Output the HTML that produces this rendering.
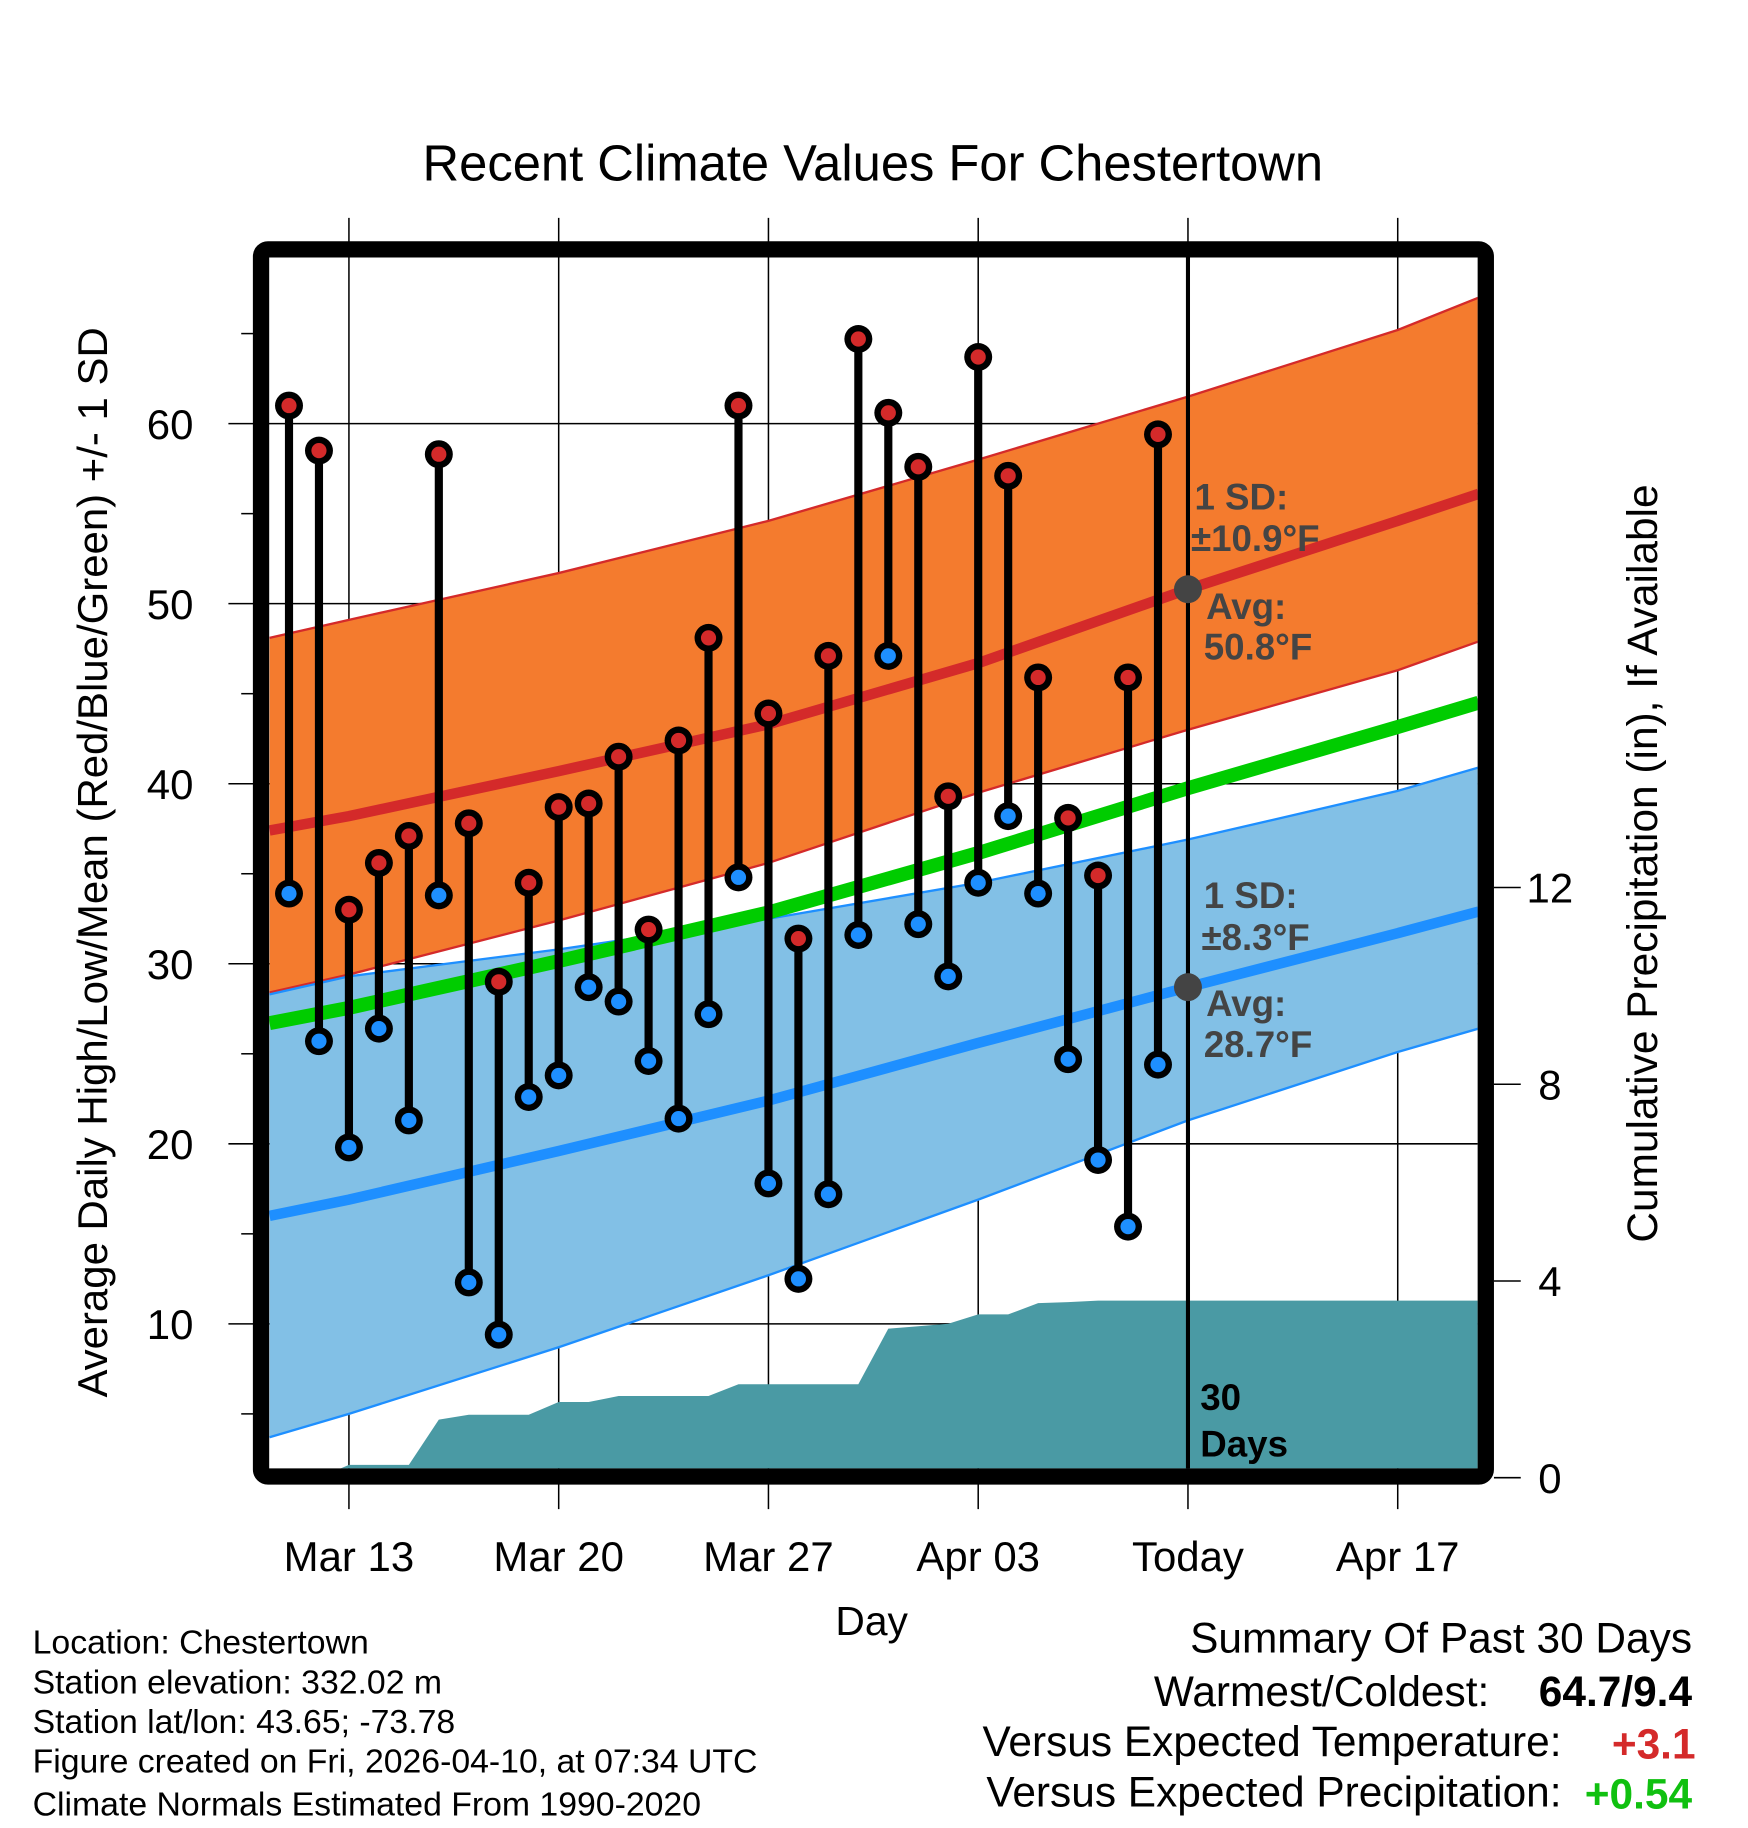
<!DOCTYPE html>
<html><head><meta charset="utf-8"><style>
html,body{margin:0;padding:0;background:#fff;}
svg{display:block;font-family:"Liberation Sans",Arial,sans-serif;}
</style></head><body>
<svg id="chart" width="1748" height="1828" viewBox="0 0 1500 1568.6" preserveAspectRatio="none" xmlns="http://www.w3.org/2000/svg">
<defs><clipPath id="plotclip"><rect x="231" y="221" width="1037" height="1039"/></clipPath></defs>
<rect x="0" y="0" width="1500" height="1568.6" fill="#fff"/>
<text x="749" y="155" font-size="43.5" text-anchor="middle">Recent Climate Values For Chestertown</text>
<g id="grid"></g>
<g id="plot" clip-path="url(#plotclip)"></g>
<g id="overlay"></g>
<rect x="224" y="214" width="1051" height="1053" rx="6" fill="none" stroke="#000" stroke-width="14"/>
<g id="axes"></g>
<text x="748" y="1403" font-size="35" text-anchor="middle">Day</text>
<text transform="translate(92,740) rotate(-90)" font-size="36" text-anchor="middle">Average Daily High/Low/Mean (Red/Blue/Green) +/- 1 SD</text>
<text transform="translate(1422,741) rotate(-90)" font-size="36.4" text-anchor="middle">Cumulative Precipitation (in), If Available</text>
<g font-size="29">
<text x="28" y="1419">Location: Chestertown</text>
<text x="28" y="1453">Station elevation: 332.02 m</text>
<text x="28" y="1487">Station lat/lon: 43.65; -73.78</text>
<text x="28" y="1521">Figure created on Fri, 2026-04-10, at 07:34 UTC</text>
<text x="28" y="1558">Climate Normals Estimated From 1990-2020</text>
</g>
<g font-size="36.4">
<text x="1452" y="1418" text-anchor="end">Summary Of Past 30 Days</text>
<text x="1278" y="1464" text-anchor="end">Warmest/Coldest:</text>
<text x="1452" y="1464" text-anchor="end" font-weight="bold">64.7/9.4</text>
<text x="1340" y="1507" text-anchor="end">Versus Expected Temperature:</text>
<text x="1455" y="1509" text-anchor="end" font-weight="bold" fill="#d42a2a">+3.1</text>
<text x="1340" y="1550" text-anchor="end">Versus Expected Precipitation:</text>
<text x="1452" y="1552" text-anchor="end" font-weight="bold" fill="#10c010">+0.54</text>
</g>
</svg>
<script>
// ---- data ----
const days = ["Mar 11","Mar 12","Mar 13","Mar 14","Mar 15","Mar 16","Mar 17","Mar 18","Mar 19","Mar 20","Mar 21","Mar 22","Mar 23","Mar 24","Mar 25","Mar 26","Mar 27","Mar 28","Mar 29","Mar 30","Mar 31","Apr 1","Apr 2","Apr 3","Apr 4","Apr 5","Apr 6","Apr 7","Apr 8","Apr 9"];
const highs = [61.0,58.5,33.0,35.6,37.1,58.3,37.8,29.0,34.5,38.7,38.9,41.5,31.9,42.4,48.1,61.0,43.9,31.4,47.1,64.7,60.6,57.6,39.3,63.7,57.1,45.9,38.1,34.9,45.9,59.4];
const lows = [33.9,25.7,19.8,26.4,21.3,33.8,12.3,9.4,22.6,23.8,28.7,27.9,24.6,21.4,27.2,34.8,17.8,12.5,17.2,31.6,47.1,32.2,29.3,34.5,38.2,33.9,24.7,19.1,15.4,24.4];
const precip = [0,0,0.26,0.26,0.26,1.18,1.28,1.28,1.28,1.54,1.54,1.66,1.66,1.66,1.66,1.9,1.9,1.9,1.9,1.9,3.03,3.08,3.13,3.32,3.32,3.55,3.57,3.6,3.6,3.6];
// normals at knot days (offset from Mar 11)
const normDays = [-0.65,2,9,16,23,30,37,39.7];
const normHighMean = [37.4,38.2,40.7,43.3,46.7,50.8,54.6,56.1];
const normHighUpper = [48.1,49.1,51.7,54.6,58.0,61.5,65.2,67.0];
const normHighLower = [28.4,29.4,32.4,35.6,39.5,43.0,46.3,47.9];
const normLowMean = [16.0,16.9,19.6,22.4,25.6,28.7,31.7,32.9];
const normLowUpper = [28.3,29.3,30.8,32.5,34.5,36.9,39.6,40.9];
const normLowLower = [3.7,5.0,8.7,12.7,16.9,21.3,25.1,26.4];
const xTickLabels = ["Mar 13","Mar 20","Mar 27","Apr 03","Today","Apr 17"];
const xTickDays = [2,9,16,23,30,37];
const yTicks = [10,20,30,40,50,60];
const yMinorTicks = [5,15,25,35,45,55,65];
const y2Ticks = [0,4,8,12];
const todayDay = 30;
const todayHighAvg = 50.8, todayLowAvg = 28.7;

// ---- scales ----
const X = d => 248 + d*25.714;
const Y = v => 1136 - (v-10)*15.45;
const Y2 = p => 1268 - p*42.2;
const NS = "http://www.w3.org/2000/svg";
function mk(parent, tag, attrs){const e=document.createElementNS(NS,tag);for(const k in attrs)e.setAttribute(k,attrs[k]);parent.appendChild(e);return e;}
const grid=document.getElementById('grid'), plot=document.getElementById('plot'), overlay=document.getElementById('overlay'), axes=document.getElementById('axes');

xTickDays.forEach((d,i)=>{
  const l=mk(grid,'line',{x1:X(d),x2:X(d),y1:187,y2:1295,stroke:'#000','stroke-width':1.3});
  
  
  const t=mk(axes,'text',{x:X(d),y:1348,'font-size':36,'text-anchor':'middle'});
  t.textContent=xTickLabels[i];
  
  
});
yTicks.forEach(v=>{
  const l=mk(grid,'line',{x1:196,x2:1268,y1:Y(v),y2:Y(v),stroke:'#000','stroke-width':1.3});
  
  
  const t=mk(axes,'text',{x:166,y:Y(v)+13,'font-size':36,'text-anchor':'end'});
  t.textContent=v;
  
  
});
yMinorTicks.forEach(v=>{
  const l=mk(axes,'line',{x1:207,x2:218,y1:Y(v),y2:Y(v),stroke:'#000','stroke-width':1.3});
  
  
});
y2Ticks.forEach(p=>{
  const l=mk(axes,'line',{x1:1282,x2:1305,y1:Y2(p),y2:Y2(p),stroke:'#000','stroke-width':1.3});
  
  
  const t=mk(axes,'text',{x:1330,y:Y2(p)+13,'font-size':36,'text-anchor':'middle'});
  t.textContent=p;
  
  
});

function pts(arr){return normDays.map((d,i)=>X(d)+','+Y(arr[i]));}
function band(up,lo,fill,edge,name){
  const p=mk(plot,'polygon',{points:pts(up).concat(pts(lo).reverse()).join(' '),fill:fill});
  
  
  [up,lo].forEach(a=>{const e=mk(plot,'polyline',{points:pts(a).join(' '),fill:'none',stroke:edge,'stroke-width':2});
    
    });
}
band(normHighUpper,normHighLower,'#f47b2e','#d42a2a','high-sd-band');
band(normLowUpper,normLowLower,'#82c0e6','#1e8fff','low-sd-band');
const meanMid=normHighMean.map((v,i)=>(v+normLowMean[i])/2);
[[normHighMean,'#d42a2a',9,'normal-high-line'],[normLowMean,'#1e8fff',9,'normal-low-line'],[meanMid,'#00cc00',12,'normal-mean-line']].forEach(([a,c,w,n])=>{
  const l=mk(plot,'polyline',{points:pts(a).join(' '),fill:'none',stroke:c,'stroke-width':w});
  
  
});

let pp=[X(-1)+','+1265];
precip.forEach((p,i)=>pp.push(X(i)+','+Y2(p)));
pp.push(X(40)+','+Y2(precip[precip.length-1]));
pp.push(X(40)+','+1265);
const pr=mk(plot,'polygon',{points:pp.join(' '),fill:'#4a9aa4'});



const tl=mk(overlay,'line',{x1:X(todayDay),x2:X(todayDay),y1:221,y2:1260,stroke:'#000','stroke-width':3.5});


[todayHighAvg,todayLowAvg].forEach(v=>{
  const c=mk(overlay,'circle',{cx:X(todayDay),cy:Y(v),r:12,fill:'#444'});
  
  
});

days.forEach((d,i)=>{
  const s=mk(overlay,'line',{x1:X(i),x2:X(i),y1:Y(highs[i]),y2:Y(lows[i]),stroke:'#000','stroke-width':7});
  
  
});
days.forEach((d,i)=>{
  [[highs[i],'#d42a2a','high-marker'],[lows[i],'#1e8fff','low-marker']].forEach(([v,c,n])=>{
    const o=mk(overlay,'circle',{cx:X(i),cy:Y(v),r:12,fill:'#000'});
    
    
    const m=mk(overlay,'circle',{cx:X(i),cy:Y(v),r:6.5,fill:c});
    
    
  });
});

const ann=[["1 SD:",1025,437,'#444'],["±10.9°F",1022,473,'#444'],["Avg:",1035,531,'#444'],["50.8°F",1033,566,'#444'],
["1 SD:",1033,779,'#444'],["±8.3°F",1031,815,'#444'],["Avg:",1035,872,'#444'],["28.7°F",1033,907,'#444'],["30",1030,1210,'#000'],["Days",1030,1250,'#000']];
ann.forEach(([t,x,y,c])=>{
  const e=mk(overlay,'text',{x:x,y:y,'font-size':31.5,'font-weight':'bold',fill:c});
  e.textContent=t;
  
  
});
</script>
</body></html>
